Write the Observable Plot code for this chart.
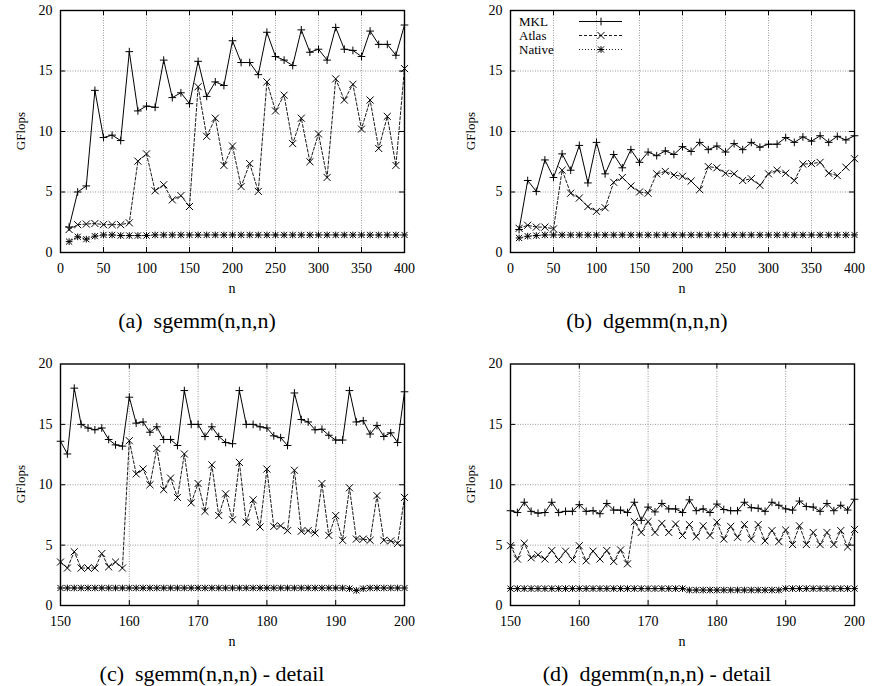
<!DOCTYPE html>
<html>
<head>
<meta charset="utf-8">
<script src="https://cdn.jsdelivr.net/npm/d3@7"></script>
<script src="https://cdn.jsdelivr.net/npm/@observablehq/plot@0.6"></script>
<style>
  html, body { margin: 0; padding: 0; background: #fff; }
  #root { position: relative; width: 872px; height: 686px; overflow: hidden;
          font-family: "Liberation Serif", "DejaVu Serif", serif; color: #000; }
  #root svg.plot { position: absolute; }
  #root svg text { font-family: "Liberation Serif", "DejaVu Serif", serif; }
  .cap { position: absolute; font-family: "Liberation Serif", serif; font-size: 22px; line-height: 24px; white-space: pre; transform: translate(-50%, -50%); }
  .xl { position: absolute; font-family: "Liberation Serif", serif; font-size: 14px; line-height: 14px; transform: translate(-50%, -50%); }
  .yl { position: absolute; font-family: "Liberation Serif", serif; font-size: 13px; line-height: 13px; transform: translate(-50%, -50%) rotate(-90deg); white-space: pre; }
  .lg { position: absolute; font-family: "Liberation Serif", serif; font-size: 13px; line-height: 11px; }
</style>
</head>
<body>
<div id="root"></div>
<script>
// ---------- data ----------
const nFull = [10,20,30,40,50,60,70,80,90,100,110,120,130,140,150,160,170,180,190,200,
               210,220,230,240,250,260,270,280,290,300,310,320,330,340,350,360,370,380,390,400];
const nDetail = [150,151,152,153,154,155,156,157,158,159,160,161,162,163,164,165,166,167,168,169,
                 170,171,172,173,174,175,176,177,178,179,180,181,182,183,184,185,186,187,188,189,
                 190,191,192,193,194,195,196,197,198,199,200];

// (a) sgemm(n,n,n)
const mklA = [2.1,5.0,5.5,13.4,9.5,9.7,9.25,16.6,11.7,12.1,12.0,15.9,12.8,13.2,12.3,15.8,12.9,14.1,13.8,17.5,
              15.7,15.7,14.7,18.2,16.2,15.9,15.45,18.4,16.55,16.8,15.9,18.6,16.8,16.7,16.2,18.3,17.2,17.2,16.3,18.8];
const atlasA = [1.9,2.3,2.35,2.4,2.3,2.3,2.3,2.45,7.55,8.15,5.1,5.6,4.35,4.7,3.8,13.7,9.6,11.1,7.2,8.8,
                5.45,7.35,5.05,14.1,11.7,13.0,9.0,11.1,7.5,9.8,6.2,14.35,12.6,13.9,10.2,12.6,8.6,11.25,7.2,15.2];
const nativeA = [0.9,1.3,1.1,1.35,1.45,1.45,1.4,1.4,1.4,1.4,1.45,1.45,1.45,1.45,1.45,1.45,1.45,1.45,1.45,1.45,
                 1.45,1.45,1.45,1.45,1.45,1.45,1.45,1.45,1.45,1.45,1.45,1.45,1.45,1.45,1.45,1.45,1.45,1.45,1.45,1.45];

// (b) dgemm(n,n,n)
const mklB = [1.9,5.95,5.05,7.65,6.2,8.15,6.8,8.85,5.75,9.1,6.5,8.1,7.0,8.5,7.45,8.3,8.0,8.4,8.1,8.75,
              8.35,9.1,8.5,8.8,8.3,9.0,8.5,9.1,8.7,8.95,8.95,9.5,9.1,9.55,9.2,9.65,9.1,9.6,9.3,9.65];
const atlasB = [2.0,2.25,2.1,2.1,1.95,6.8,4.9,4.5,3.8,3.4,3.7,5.8,6.2,5.5,5.0,4.9,6.5,6.7,6.4,6.3,
                5.9,5.2,7.1,7.0,6.55,6.5,5.95,6.1,5.55,6.5,6.8,6.55,5.95,7.3,7.35,7.45,6.55,6.35,7.05,7.75];
const nativeB = [1.2,1.35,1.4,1.45,1.45,1.45,1.45,1.45,1.45,1.45,1.45,1.45,1.45,1.45,1.45,1.45,1.45,1.45,1.45,1.45,
                 1.45,1.45,1.45,1.45,1.45,1.45,1.45,1.45,1.45,1.45,1.45,1.45,1.45,1.45,1.45,1.45,1.45,1.45,1.45,1.45];

// (c) sgemm(n,n,n) - detail
const mklC = [13.6,12.55,18.0,15.0,14.7,14.55,14.7,13.75,13.3,13.2,
              17.25,15.1,15.2,14.35,14.8,13.75,13.75,13.25,17.8,15.0,
              15.0,14.0,14.8,14.0,13.5,13.4,17.8,15.0,15.0,14.8,
              14.7,14.05,13.9,13.25,17.6,15.4,15.2,14.55,14.6,14.1,
              13.7,13.7,17.8,15.2,15.3,14.2,14.9,14.0,14.3,13.5,17.7];
const atlasC = [3.6,3.1,4.45,3.1,3.1,3.1,4.3,3.2,3.6,3.1,
                13.65,10.9,11.3,10.0,13.0,9.6,10.55,8.95,12.55,8.5,
                10.1,7.8,11.65,7.45,9.25,7.1,11.85,6.9,8.75,6.5,
                11.3,6.55,6.6,6.2,11.2,6.15,6.2,6.0,10.1,5.8,
                7.45,5.4,9.75,5.5,5.5,5.4,9.1,5.4,5.35,5.15,8.95];
const nativeC = [1.45,1.45,1.45,1.45,1.45,1.45,1.45,1.45,1.45,1.45,
                 1.45,1.45,1.45,1.45,1.45,1.45,1.45,1.45,1.45,1.45,
                 1.45,1.45,1.45,1.45,1.45,1.45,1.45,1.45,1.45,1.45,
                 1.45,1.45,1.45,1.45,1.45,1.45,1.45,1.45,1.45,1.45,
                 1.45,1.45,1.4,1.25,1.4,1.45,1.45,1.45,1.45,1.45,1.45];

// (d) dgemm(n,n,n) - detail
const mklD = [7.85,7.7,8.55,7.8,7.65,7.7,8.55,7.7,7.8,7.8,
              8.35,7.8,7.85,7.6,8.45,7.9,7.9,7.7,8.55,7.05,
              8.15,7.75,8.45,8.0,8.0,7.7,8.75,7.85,8.0,7.7,
              8.4,7.95,7.85,7.85,8.55,8.1,8.05,7.8,8.55,8.3,
              8.0,7.9,8.65,8.2,8.15,7.8,8.45,7.85,8.3,7.9,8.8];
const atlasD = [4.95,3.85,5.15,3.95,4.2,3.85,4.55,3.8,4.5,3.8,
                4.95,3.7,4.5,3.85,4.55,3.65,4.6,3.45,6.95,6.05,
                6.95,6.05,6.8,6.05,6.75,5.8,6.7,5.7,6.6,5.8,
                6.9,5.5,6.55,5.65,6.7,5.5,6.7,5.35,6.2,5.3,
                6.25,5.05,6.6,5.05,6.05,5.05,6.05,5.05,6.2,4.85,6.3];
const nativeD = [1.4,1.4,1.4,1.4,1.4,1.4,1.4,1.4,1.4,1.4,
                 1.4,1.4,1.4,1.4,1.4,1.4,1.4,1.4,1.4,1.4,
                 1.4,1.4,1.4,1.4,1.4,1.4,1.28,1.28,1.28,1.28,
                 1.28,1.28,1.28,1.28,1.28,1.28,1.28,1.28,1.28,1.28,
                 1.4,1.4,1.4,1.4,1.4,1.4,1.4,1.4,1.4,1.4,1.4];

const xTicksFull = [0,50,100,150,200,250,300,350,400];
const xTicksDetail = [150,160,170,180,190,200];
const yTicks = [0,5,10,15,20];
const seriesNames = ["MKL", "Atlas", "Native"];
const captions = ["(a)  sgemm(n,n,n)", "(b)  dgemm(n,n,n)", "(c)  sgemm(n,n,n) - detail", "(d)  dgemm(n,n,n) - detail"];

// ---------- drawing ----------
const W = 436, H = 300;
const FONT = '"Liberation Serif", "DejaVu Serif", serif';
const styles = {
  MKL:    {dash: null},
  Atlas:  {dash: "3,2"},
  Native: {dash: "1,2"}
};

function makePanel({n, mkl, atlas, native, xDomain, xTicks, ml, mr, mt, ph}) {
  const mb = H - mt - ph;
  const pw = W - ml - mr;
  const rows = vals => vals.map((v, i) => ({n: n[i], v}));
  const M = rows(mkl), A = rows(atlas), N = rows(native);
  const innerX = xTicks.slice(1, -1), innerY = yTicks.slice(1, -1);
  const grid = {stroke: "#808080", strokeWidth: 0.8, strokeDasharray: "1,1.5"};
  const tk = 5;
  return Plot.plot({
    width: W, height: H,
    marginLeft: ml, marginRight: mr, marginTop: mt, marginBottom: mb,
    x: {domain: xDomain, label: null},
    y: {domain: [0, 20], label: null},
    style: {fontFamily: FONT, fontSize: "14px", color: "black", background: "white", overflow: "visible"},
    marks: [
      Plot.ruleX(innerX, {x: d => d, ...grid}),
      Plot.ruleY(innerY, {y: d => d, ...grid}),
      Plot.ruleX(innerX, {x: d => d, stroke: "black", insetTop: ph - tk}),
      Plot.ruleX(innerX, {x: d => d, stroke: "black", insetBottom: ph - tk}),
      Plot.ruleY(innerY, {y: d => d, stroke: "black", insetRight: pw - tk}),
      Plot.ruleY(innerY, {y: d => d, stroke: "black", insetLeft: pw - tk}),
      Plot.line(N, {x: "n", y: "v", stroke: "black", strokeWidth: 0.9, strokeDasharray: styles.Native.dash}),
      Plot.line(A, {x: "n", y: "v", stroke: "black", strokeWidth: 0.9, strokeDasharray: styles.Atlas.dash}),
      Plot.line(M, {x: "n", y: "v", stroke: "black", strokeWidth: 1}),
      Plot.dot(N, {x: "n", y: "v", symbol: "plus", r: 2.3, stroke: "black", strokeWidth: 1}),
      Plot.dot(N, {x: "n", y: "v", symbol: "times", r: 2.9, stroke: "black", strokeWidth: 1}),
      Plot.dot(A, {x: "n", y: "v", symbol: "times", r: 3.3, stroke: "black", strokeWidth: 1}),
      Plot.dot(M, {x: "n", y: "v", symbol: "plus", r: 2.6, stroke: "black", strokeWidth: 1}),
      Plot.frame({stroke: "black", strokeWidth: 1.4}),
      Plot.axisX({ticks: xTicks, tickSize: 0, tickPadding: 11, label: null, fontFamily: FONT, fontSize: 14}),
      Plot.axisY({ticks: yTicks, tickSize: 0, tickPadding: 8, label: null, fontFamily: FONT, fontSize: 14})
    ]
  });
}

const root = document.getElementById("root");
const panels = [
  {n: nFull, mkl: mklA, atlas: atlasA, native: nativeA, xDomain: [0, 400], xTicks: xTicksFull, ml: 60, mr: 32, mt: 10, ph: 242, left: 0, top: 0, capX: 197},
  {n: nFull, mkl: mklB, atlas: atlasB, native: nativeB, xDomain: [0, 400], xTicks: xTicksFull, ml: 74, mr: 18, mt: 10, ph: 242, left: 436, top: 0, capX: 647},
  {n: nDetail, mkl: mklC, atlas: atlasC, native: nativeC, xDomain: [150, 200], xTicks: xTicksDetail, ml: 60, mr: 32, mt: 13.5, ph: 241.5, left: 0, top: 350, capX: 212},
  {n: nDetail, mkl: mklD, atlas: atlasD, native: nativeD, xDomain: [150, 200], xTicks: xTicksDetail, ml: 74, mr: 18, mt: 13.5, ph: 241.5, left: 436, top: 350, capX: 657}
];

panels.forEach((p, i) => {
  const svg = makePanel(p);
  svg.classList.add("plot");
  svg.style.left = p.left + "px";
  svg.style.top = p.top + "px";
  root.appendChild(svg);
  const plotLeft = p.left + p.ml, plotRight = p.left + W - p.mr;
  const plotTop = p.top + p.mt, plotBottom = plotTop + p.ph;
  const cx = (plotLeft + plotRight) / 2;
  const xl = document.createElement("div");
  xl.className = "xl"; xl.textContent = "n";
  xl.style.left = cx + "px"; xl.style.top = (plotBottom + 37) + "px";
  root.appendChild(xl);
  const yl = document.createElement("div");
  yl.className = "yl"; yl.textContent = "GFlops";
  yl.style.left = (plotLeft - 40) + "px"; yl.style.top = ((plotTop + plotBottom) / 2) + "px";
  root.appendChild(yl);
  const cap = document.createElement("div");
  cap.className = "cap"; cap.textContent = captions[i];
  cap.style.left = p.capX + "px";
  cap.style.top = (plotBottom + 69) + "px";
  root.appendChild(cap);
});

// legend (panel b, upper left)
const lgX = 519, lgY = [21.5, 35.5, 49.5];
seriesNames.forEach((name, i) => {
  const t = document.createElement("div");
  t.className = "lg"; t.textContent = name;
  t.style.left = lgX + "px"; t.style.top = (lgY[i] - 5.5) + "px";
  root.appendChild(t);
});
const lg = d3.select(root).append("svg")
  .attr("width", 50).attr("height", 50)
  .style("position", "absolute").style("left", "576px").style("top", "10px");
const sym = {plus: d3.symbolPlus, times: d3.symbolTimes};
seriesNames.forEach((name, i) => {
  const y = lgY[i] - 10;
  lg.append("line").attr("x1", 3).attr("x2", 46).attr("y1", y).attr("y2", y)
    .attr("stroke", "black").attr("stroke-width", name === "MKL" ? 1 : 0.9)
    .attr("stroke-dasharray", styles[name].dash);
  const marks = name === "MKL" ? [["plus", 2.6]] : name === "Atlas" ? [["times", 3.3]] : [["plus", 2.3], ["times", 2.9]];
  marks.forEach(([s, r]) => {
    lg.append("path").attr("transform", `translate(25,${y})`)
      .attr("d", d3.symbol(sym[s], Math.PI * r * r)())
      .attr("fill", "none").attr("stroke", "black");
  });
});
</script>
</body>
</html>
